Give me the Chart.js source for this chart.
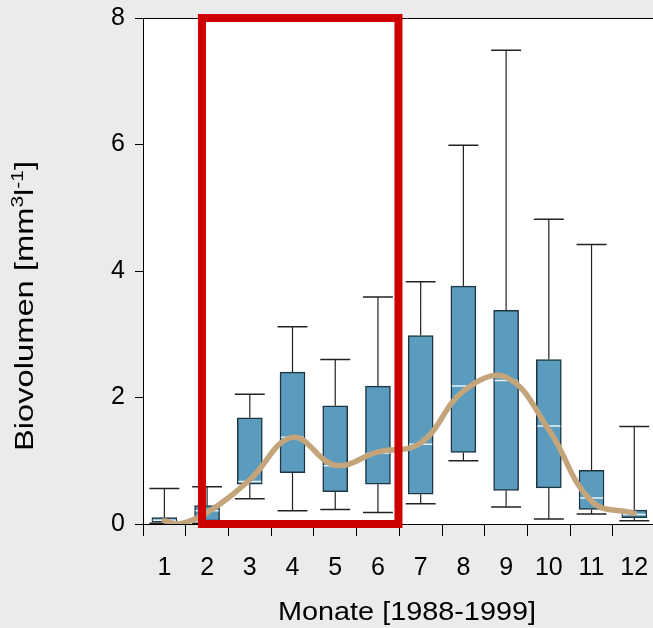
<!DOCTYPE html>
<html>
<head>
<meta charset="utf-8">
<script src="https://cdn.jsdelivr.net/npm/chart.js@4.4.1/dist/chart.umd.min.js"></script>
<style>
  html, body { margin: 0; padding: 0; background: #ebebeb; overflow: hidden; }
  canvas { display: block; }
</style>
</head>
<body>
<canvas id="chart" width="671" height="628"></canvas>
<script>
const months = [1, 2, 3, 4, 5, 6, 7, 8, 9, 10, 11, 12];

// box plot stats per month (mm3/l)
const whiskerLow = [0.01, 0.01, 0.40, 0.21, 0.23, 0.18, 0.32, 1.00, 0.27, 0.08, 0.16, 0.05];
const q1 = [0.03, 0.05, 0.63, 0.81, 0.51, 0.63, 0.47, 1.13, 0.53, 0.57, 0.23, 0.10];
const median = [0.06, 0.21, 0.67, 1.37, 0.92, 1.12, 1.26, 2.18, 2.27, 1.55, 0.41, 0.15];
const q3 = [0.10, 0.29, 1.68, 2.40, 1.87, 2.18, 2.98, 3.76, 3.38, 2.60, 0.85, 0.22];
const whiskerHigh = [0.56, 0.59, 2.05, 3.12, 2.60, 3.59, 3.83, 5.99, 7.49, 4.82, 4.42, 1.54];

// smoothed trend line
const trendX = [1, 1.35, 2, 3, 4, 5, 6, 7, 8, 9, 10, 11, 12];
const trendY = [0.05, 0.0, 0.18, 0.70, 1.37, 0.93, 1.14, 1.28, 2.10, 2.32, 1.49, 0.36, 0.17];

// highlighted range (red frame)
const frameX = [1.88, 6.48];
const frameY = [0, 8];

const yTicks = [0, 2, 4, 6, 8];
const xTitle = 'Monate [1988-1999]';
const yTitleParts = [
  ['Biovolumen [mm', false],
  ['3', true],
  ['l', false],
  ['-1', true],
  [']', false],
];

const FONT = "'Liberation Sans', Arial, sans-serif";
const CAP_HALF = 0.35;
const MEDIAN_HALF = 0.27;

const boxData = months.map((m, i) => ({ x: m, y: [q1[i], q3[i]] }));

const whiskerData = [];
const capData = [];
const medianData = [];
months.forEach((m, i) => {
  whiskerData.push({ x: m, y: q3[i] }, { x: m, y: whiskerHigh[i] }, { x: m, y: null });
  whiskerData.push({ x: m, y: q1[i] }, { x: m, y: whiskerLow[i] }, { x: m, y: null });
  capData.push({ x: m - CAP_HALF, y: whiskerHigh[i] }, { x: m + CAP_HALF, y: whiskerHigh[i] }, { x: m, y: null });
  capData.push({ x: m - CAP_HALF, y: whiskerLow[i] }, { x: m + CAP_HALF, y: whiskerLow[i] }, { x: m, y: null });
  medianData.push({ x: m - MEDIAN_HALF, y: median[i] }, { x: m + MEDIAN_HALF, y: median[i] }, { x: m, y: null });
});

const trendData = trendX.map((x, i) => ({ x: x, y: trendY[i] }));

const frameData = [
  { x: frameX[0], y: frameY[0] },
  { x: frameX[0], y: frameY[1] },
  { x: frameX[1], y: frameY[1] },
  { x: frameX[1], y: frameY[0] },
  { x: frameX[0], y: frameY[0] },
];

const plotBackground = {
  id: 'plotBackground',
  beforeDraw: (chart) => {
    const { ctx, chartArea } = chart;
    ctx.save();
    ctx.fillStyle = '#ffffff';
    ctx.fillRect(chartArea.left, chartArea.top, chartArea.right - chartArea.left, chartArea.bottom - chartArea.top);
    ctx.restore();
  },
};

// titles are drawn a bit stretched, like the original
const axisTitles = {
  id: 'axisTitles',
  afterDraw: (chart) => {
    const { ctx, chartArea } = chart;
    ctx.save();
    ctx.fillStyle = '#000000';
    ctx.textBaseline = 'alphabetic';

    ctx.font = `26px ${FONT}`;
    ctx.textAlign = 'center';
    const xw = ctx.measureText(xTitle).width;
    ctx.translate((chartArea.left + chartArea.right) / 2, chartArea.bottom + 96);
    ctx.scale(258 / xw, 1);
    ctx.fillText(xTitle, 0, 0);
    ctx.restore();

    // y title with superscripts, rotated
    ctx.save();
    ctx.fillStyle = '#000000';
    ctx.textBaseline = 'alphabetic';
    const mainFont = `25px ${FONT}`;
    const supFont = `16px ${FONT}`;
    let total = 0;
    yTitleParts.forEach(([txt, sup]) => {
      ctx.font = sup ? supFont : mainFont;
      total += ctx.measureText(txt).width;
    });
    ctx.translate(33, chartArea.bottom - 218);
    ctx.rotate(-Math.PI / 2);
    ctx.scale(290 / total, 1);
    ctx.textAlign = 'left';
    let pos = -total / 2;
    yTitleParts.forEach(([txt, sup]) => {
      ctx.font = sup ? supFont : mainFont;
      ctx.fillText(txt, pos, sup ? -10 : 0);
      pos += ctx.measureText(txt).width;
    });
    ctx.restore();
  },
};

new Chart(document.getElementById('chart'), {
  type: 'bar',
  plugins: [plotBackground, axisTitles],
  data: {
    datasets: [
      {
        type: 'line',
        label: 'frame',
        data: frameData,
        borderColor: '#cc0000',
        borderWidth: 8,
        borderJoinStyle: 'miter',
        borderCapStyle: 'square',
        pointRadius: 0,
        tension: 0,
        clip: false,
        order: 0,
      },
      {
        type: 'line',
        label: 'trend',
        data: trendData,
        borderColor: '#c4a57b',
        borderWidth: 5.5,
        borderCapStyle: 'round',
        pointRadius: 0,
        tension: 0.4,
        order: 1,
      },
      {
        type: 'line',
        label: 'median',
        data: medianData,
        borderColor: '#e6f3fa',
        borderWidth: 1.5,
        pointRadius: 0,
        tension: 0,
        order: 2,
      },
      {
        type: 'bar',
        label: 'box',
        data: boxData,
        backgroundColor: '#5b9bbd',
        borderColor: '#1d3644',
        borderWidth: 1.5,
        borderSkipped: false,
        barThickness: 25,
        order: 3,
      },
      {
        type: 'line',
        label: 'whisker',
        data: whiskerData,
        borderColor: '#222222',
        borderWidth: 1.2,
        pointRadius: 0,
        tension: 0,
        order: 4,
      },
      {
        type: 'line',
        label: 'cap',
        data: capData,
        borderColor: '#222222',
        borderWidth: 1.5,
        pointRadius: 0,
        tension: 0,
        order: 4,
      },
    ],
  },
  options: {
    responsive: false,
    animation: false,
    layout: { padding: { top: 18, left: 0, right: 0, bottom: 0 } },
    plugins: {
      legend: { display: false },
      tooltip: { enabled: false },
    },
    scales: {
      x: {
        type: 'linear',
        position: 'bottom',
        min: 0.5,
        max: 12.86,
        offset: false,
        afterBuildTicks: (scale) => {
          scale.ticks = months.map((m) => ({ value: m }));
        },
        afterFit: (scale) => {
          scale.height = 104;
        },
        ticks: {
          color: '#000000',
          font: { family: FONT, size: 25 },
          padding: 17,
          maxRotation: 0,
          autoSkip: false,
          callback: (v) => String(v),
        },
        grid: { drawOnChartArea: false, drawTicks: true, tickLength: 12, tickColor: '#000000', tickWidth: 1 },
        border: { display: true, color: '#000000', width: 1 },
      },
      xTop: {
        type: 'linear',
        position: 'top',
        min: 0.5,
        max: 12.86,
        ticks: { display: false },
        grid: { display: false, drawTicks: false },
        border: { display: true, color: '#000000', width: 1 },
        afterFit: (scale) => {
          scale.height = 0;
        },
      },
      y: {
        type: 'linear',
        min: 0,
        max: 8,
        afterBuildTicks: (scale) => {
          scale.ticks = yTicks.map((v) => ({ value: v }));
        },
        afterFit: (scale) => {
          scale.width = 143;
          scale.paddingTop = 0;
          scale.paddingBottom = 0;
        },
        ticks: {
          color: '#000000',
          font: { family: FONT, size: 25 },
          padding: 10,
        },
        grid: { drawOnChartArea: false, drawTicks: true, tickLength: 8, tickColor: '#000000', tickWidth: 1 },
        border: { display: true, color: '#000000', width: 1 },
      },
    },
  },
});
</script>
</body>
</html>
